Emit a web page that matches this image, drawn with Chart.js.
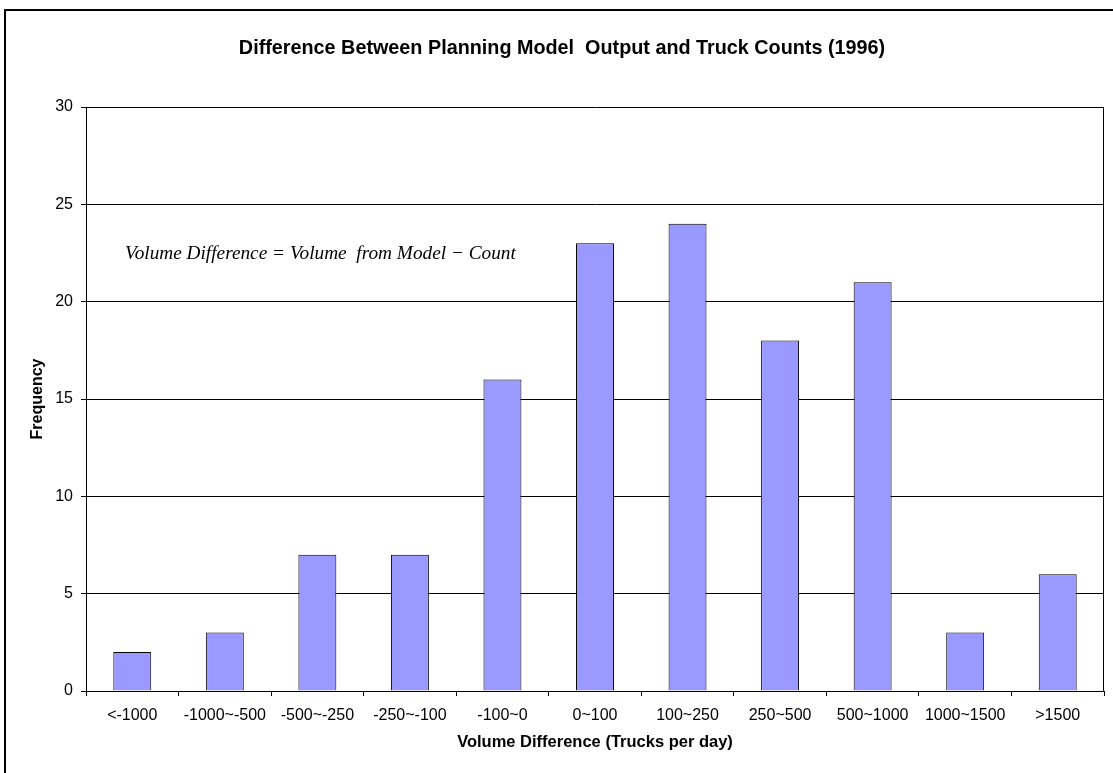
<!DOCTYPE html>
<html>
<head>
<meta charset="utf-8">
<script src="https://cdn.jsdelivr.net/npm/chart.js@4"></script>
<style>
  html, body { margin: 0; padding: 0; background: #fff; }
  #wrap { width: 1113px; height: 773px; position: relative; }
</style>
</head>
<body>
<div id="wrap"><canvas id="truckChart" width="1113" height="773"></canvas></div>
<script>
const categories = ['<-1000', '-1000~-500', '-500~-250', '-250~-100', '-100~0', '0~100',
                    '100~250', '250~500', '500~1000', '1000~1500', '>1500'];
const frequency = [2, 3, 7, 7, 16, 23, 24, 18, 21, 3, 6];
const yTicks = [0, 5, 10, 15, 20, 25, 30];

const chartTitle = 'Difference Between Planning Model  Output and Truck Counts (1996)';
const formulaNote = 'Volume Difference = Volume  from Model \u2212 Count';

const sansFont = 'Arial, "Liberation Sans", sans-serif';

// frame, plot-area right edge, title and the formula note
const decorations = {
  id: 'decorations',
  afterDraw(chart) {
    const { ctx, chartArea } = chart;
    ctx.save();
    ctx.strokeStyle = '#000';
    ctx.lineWidth = 2;
    ctx.beginPath();
    ctx.moveTo(5, 773);
    ctx.lineTo(5, 10);
    ctx.lineTo(1113, 10);
    ctx.stroke();

    ctx.lineWidth = 1;
    ctx.beginPath();
    ctx.moveTo(Math.round(chartArea.right) - 0.5, chartArea.top);
    ctx.lineTo(Math.round(chartArea.right) - 0.5, chartArea.bottom);
    ctx.stroke();

    ctx.fillStyle = '#000';
    ctx.font = 'bold 19.8px ' + sansFont;
    ctx.textAlign = 'center';
    ctx.textBaseline = 'middle';
    ctx.fillText(chartTitle, 562, 49);

    ctx.font = 'italic 19.3px "Liberation Serif", "Times New Roman", serif';
    ctx.textAlign = 'left';
    ctx.textBaseline = 'alphabetic';
    ctx.fillText(formulaNote, 125, 259);
    ctx.restore();
  }
};

const ctx = document.getElementById('truckChart').getContext('2d');
new Chart(ctx, {
  type: 'bar',
  data: {
    labels: categories,
    datasets: [{
      label: 'Frequency',
      data: frequency,
      backgroundColor: '#9999ff',
      borderColor: '#000',
      borderWidth: 1,
      barPercentage: 0.41,
      categoryPercentage: 1
    }]
  },
  options: {
    responsive: false,
    animation: false,
    layout: { padding: { left: 0, top: 107, right: 9, bottom: 0 } },
    plugins: {
      legend: { display: false },
      tooltip: { enabled: false }
    },
    scales: {
      x: {
        grid: { display: true, drawOnChartArea: false, offset: true, color: '#000', tickLength: 5 },
        border: { display: true, color: '#000', width: 1 },
        ticks: { color: '#000', font: { family: sansFont, size: 16 }, padding: 10, maxRotation: 0, autoSkip: false },
        title: {
          display: true, text: 'Volume Difference (Trucks per day)', color: '#000',
          font: { family: sansFont, size: 16.5, weight: 'bold' }, padding: { top: 0, bottom: 21 }
        },
        afterFit(scale) { scale.height = 82; }
      },
      y: {
        min: 0,
        max: 30,
        afterBuildTicks(scale) { scale.ticks = yTicks.map(v => ({ value: v })); },
        grid: { color: '#000', tickLength: 5 },
        border: { display: true, color: '#000', width: 1 },
        ticks: { color: '#000', font: { family: sansFont, size: 16 }, padding: 8 },
        title: {
          display: true, text: 'Frequency', color: '#000',
          font: { family: sansFont, size: 16, weight: 'bold' }, padding: { top: 28, bottom: 0 }
        },
        afterFit(scale) { scale.width = 86; }
      }
    }
  },
  plugins: [decorations]
});
</script>
</body>
</html>
